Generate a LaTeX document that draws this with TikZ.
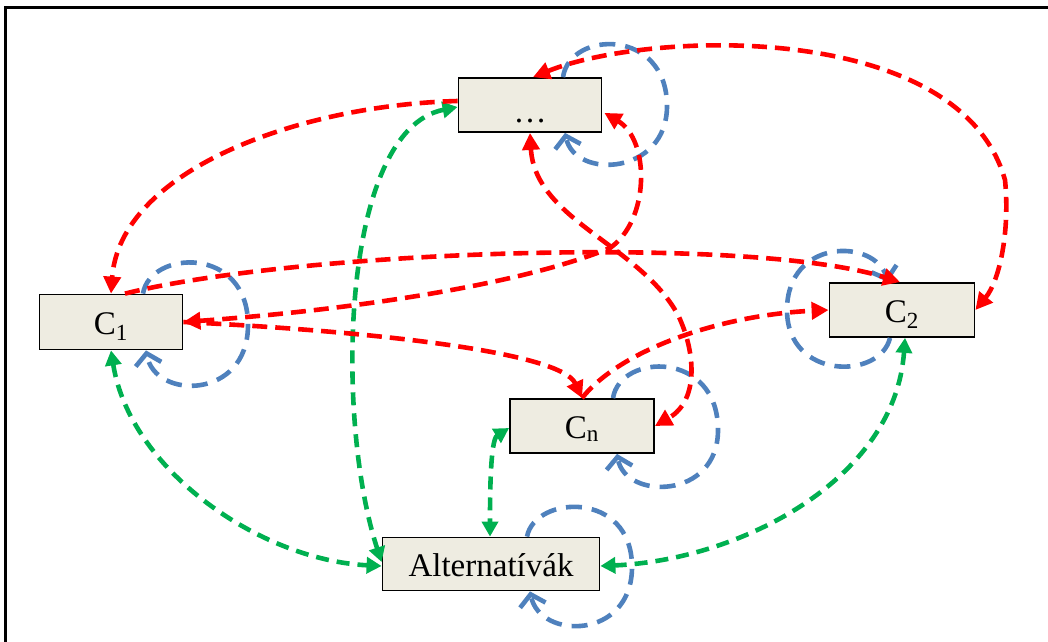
\documentclass[tikz,border=0pt]{standalone}
\usepackage{fontspec}
\setmainfont{Liberation Serif}
\usetikzlibrary{arrows.meta,calc}
\definecolor{linkred}{HTML}{FF0000}
\definecolor{loopblue}{HTML}{4F81BD}
\definecolor{altgreen}{HTML}{00B050}
\definecolor{boxfill}{HTML}{EEECE1}
\begin{document}
\begin{tikzpicture}[x=1pt,y=-1pt,
  box/.style={draw=black,line width=1.8pt,fill=boxfill,inner sep=0pt,
    text height=24pt,text depth=0pt,font=\fontsize{33}{36}\selectfont},
  conn/.style={line width=4.6pt,dash pattern=on 15pt off 8pt},
  redln/.style={conn,draw=linkred,>={Triangle[length=17pt,width=17pt]}},
  greenln/.style={conn,draw=altgreen,dash pattern=on 13pt off 8pt,>={Triangle[length=15pt,width=16pt]}},
  blueln/.style={conn,draw=loopblue,dash pattern=on 16pt off 10pt,>={Straight Barb[length=11pt,width=26pt]}}]
\useasboundingbox (0,0) rectangle (1048,641);
% outer frame
\draw[line width=3.5pt] (5.5,7.5) rectangle (1070,670);

% clusters
\node[box,minimum width=143pt,minimum height=54pt] (dots) at (530,105) {\raisebox{-5pt}{\dots}};
\node[box,minimum width=143pt,minimum height=55pt] (c1) at (111,322) {C\textsubscript{1}};
\node[box,minimum width=145pt,minimum height=54pt] (c2) at (902,310) {C\textsubscript{2}};
\node[box,minimum width=144pt,minimum height=54pt] (cn) at (582,426) {C\textsubscript{n}};
\node[box,minimum width=217pt,minimum height=53pt] (alt) at (491,564) {Alternatívák};

% inner dependence loops
\draw[blueln,->] ($(dots.north)+(33,0)$) .. controls (570,30) and (667,28) .. (667,106)
  .. controls (667,175) and (575,180) .. ($(dots.south)+(35,0)$);
\draw[blueln,->] ($(c1.north)+(32,0)$) .. controls (150,250) and (248,245) .. (248,325)
  .. controls (248,400) and (155,400) .. ($(c1.south)+(35,0)$);
\draw[blueln,->] ($(c2.south)+(-12,0)$) .. controls (880,380) and (787,380) .. (787,310)
  .. controls (787,238) and (875,238) .. ($(c2.north)+(-14,0)$);
\draw[blueln,->] ($(cn.north)+(31,0)$) .. controls (620,353) and (718,350) .. (718,430)
  .. controls (718,500) and (625,500) .. ($(cn.south)+(35,0)$);
\draw[blueln,->] ($(alt.north)+(36,0)$) .. controls (535,495) and (632,490) .. (632,567)
  .. controls (632,640) and (540,640) .. ($(alt.south)+(39,0)$);

% links with the alternatives
\draw[greenln,<->] (c1.south) .. controls (130,470) and (260,560) .. ($(alt.west)+(0,2)$);
\draw[greenln,<->] ($(dots.west)+(0,2)$) .. controls (340,130) and (335,420) .. ($(alt.west)+(0,-2)$);
\draw[greenln,<->] ($(cn.west)+(0,2)$) .. controls (490,440) and (490,500) .. ($(alt.north)+(-1,0)$);
\draw[greenln,<->] ($(c2.south)+(3,0)$) .. controls (895,480) and (740,560) .. ($(alt.east)+(0,2)$);

% outer dependence between clusters
\draw[redln,->] ($(dots.west)+(0,-4)$) .. controls (300,105) and (120,170) .. (c1.north);
\draw[redln,->] ($(c1.north)+(14,0)$) .. controls (300,250) and (750,235) .. ($(c2.north)+(-2,0)$);
\draw[redln,<->] (c1.east) .. controls (350,310) and (520,285) .. (610,248)
  .. controls (650,220) and (650,140) .. ($(dots.south east)+(2,-20)$);
\draw[redln,->] (c1.east) .. controls (350,330) and (560,350) .. (cn.north);
\draw[redln,<->] (dots.south) .. controls (535,220) and (640,245) .. (678,315)
  .. controls (695,350) and (700,400) .. (cn.east);
\draw[redln,->] (cn.north) .. controls (620,350) and (720,315) .. (c2.west);
\draw[redln,<->] ($(dots.north)+(3,0)$) .. controls (650,30) and (960,20) .. (1005,180)
  .. controls (1010,230) and (1000,280) .. (c2.east);
\end{tikzpicture}
\end{document}
